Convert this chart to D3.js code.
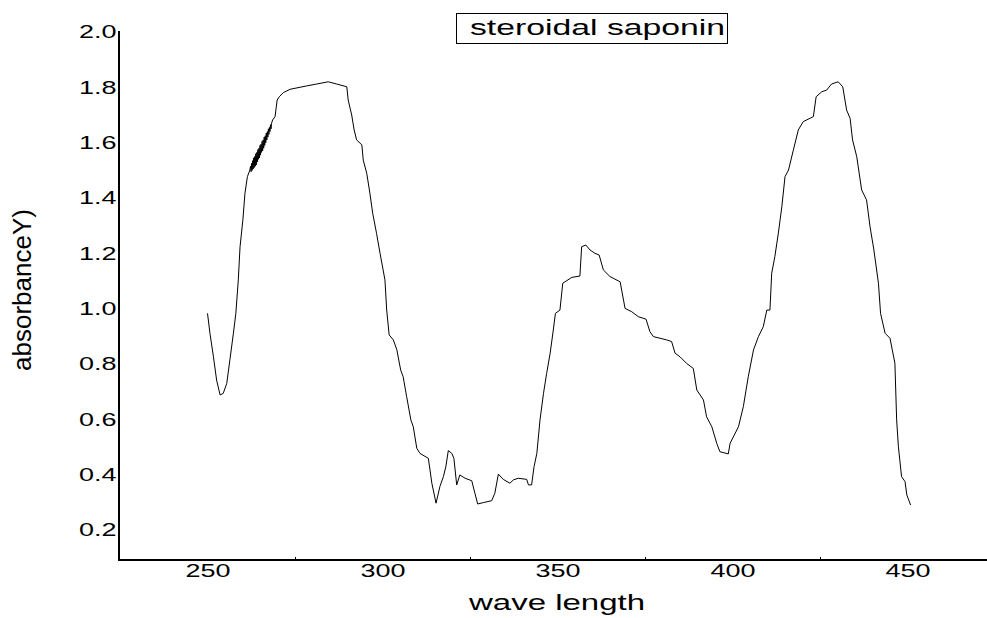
<!DOCTYPE html>
<html>
<head>
<meta charset="utf-8">
<style>
  body { margin: 0; background: #fff; }
  svg { display: block; font-family: "Liberation Sans", Arial, sans-serif; }
</style>
</head>
<body>
<div id="container"></div>
<script src="https://cdn.jsdelivr.net/npm/d3@7"></script>
<script>

// spectrum (nm, absorbance)
const waveLength = [
  250.0, 250.7, 251.7, 252.6, 253.6, 254.5, 255.5, 256.4, 257.4, 258.1,
  258.8, 259.3, 260.1, 260.7, 261.4, 262.1,
  // noisy stretch on the left shoulder
  262.30, 262.45, 262.60, 262.75, 262.90, 263.05, 263.20, 263.35, 263.50, 263.65,
  263.80, 263.95, 264.10, 264.25, 264.40, 264.55, 264.70, 264.85, 265.00, 265.15,
  265.30, 265.45, 265.60, 265.75, 265.90, 266.05, 266.20, 266.35, 266.50, 266.65,
  266.80, 266.95, 267.10, 267.25, 267.40, 267.55, 267.70, 267.85, 268.00, 268.15,
  268.30,
  268.6, 269.3, 269.9, 270.5, 271.7, 273.6, 278.3, 281.2, 284.5, 286.9,
  289.8, 290.2, 291.2, 291.9, 292.6, 294.1, 294.5, 295.5, 296.4, 297.2,
  298.3, 299.3, 300.7, 301.2, 301.9, 303.1, 304.1, 305.2, 305.9, 306.9,
  308.1, 308.8, 309.8, 310.7, 313.1, 314.1, 315.3, 316.4, 317.4, 318.1,
  318.8, 319.8, 320.4, 321.2, 322.1, 323.6, 325.5, 326.4, 327.2, 328.8,
  331.2, 332.1, 333.1, 334.5, 336.4, 337.4, 338.8, 341.2, 341.7, 342.6,
  343.3, 344.1, 345.0, 346.0, 346.9, 347.9, 348.8, 349.4, 350.7, 351.5,
  354.1, 356.4, 356.9, 358.1, 359.3, 360.7, 361.9, 363.1, 365.0, 367.9,
  369.3, 371.2, 373.1, 375.3, 376.4, 377.4, 381.2, 382.6, 383.6, 385.0,
  386.9, 388.8, 389.8, 391.7, 392.6, 394.1, 395.5, 396.4, 398.8, 399.3,
  401.7, 403.1, 404.5, 406.0, 407.4, 408.8, 409.8, 410.7, 411.2, 412.1,
  413.1, 414.1, 415.0, 416.0, 417.4, 418.8, 420.2, 423.1, 423.9, 425.5,
  426.9, 428.3, 430.2, 431.5, 432.6, 433.6, 434.3, 435.5, 436.9, 438.3,
  439.3, 440.4, 441.7, 442.3, 443.6, 445.0, 446.4, 446.9, 447.4, 448.3,
  449.3, 449.8, 450.9
];
const absorbance = [
  0.983, 0.911, 0.826, 0.742, 0.688, 0.694, 0.730, 0.815, 0.911, 0.983,
  1.104, 1.224, 1.320, 1.417, 1.477, 1.501,
  1.515, 1.495, 1.525, 1.500, 1.535, 1.505, 1.545, 1.510, 1.550, 1.515,
  1.560, 1.520, 1.565, 1.530, 1.575, 1.540, 1.580, 1.545, 1.590, 1.555,
  1.595, 1.565, 1.605, 1.570, 1.610, 1.580, 1.620, 1.590, 1.625, 1.600,
  1.635, 1.610, 1.640, 1.620, 1.650, 1.630, 1.655, 1.640, 1.665, 1.650,
  1.670,
  1.682, 1.694, 1.754, 1.766, 1.781, 1.793, 1.805, 1.812, 1.820, 1.812,
  1.802, 1.754, 1.700, 1.646, 1.610, 1.592, 1.537, 1.489, 1.417, 1.345,
  1.272, 1.200, 1.104, 0.995, 0.905, 0.887, 0.851, 0.778, 0.754, 0.682,
  0.598, 0.573, 0.495, 0.477, 0.459, 0.369, 0.297, 0.357, 0.393, 0.429,
  0.487, 0.477, 0.459, 0.363, 0.399, 0.387, 0.378, 0.333, 0.294, 0.299,
  0.306, 0.333, 0.402, 0.383, 0.369, 0.381, 0.387, 0.383, 0.363, 0.363,
  0.429, 0.477, 0.598, 0.694, 0.766, 0.839, 0.923, 0.983, 0.995, 1.092,
  1.113, 1.118, 1.224, 1.230, 1.212, 1.200, 1.194, 1.140, 1.116, 1.097,
  1.001, 0.989, 0.971, 0.962, 0.917, 0.899, 0.887, 0.881, 0.839, 0.826,
  0.802, 0.784, 0.706, 0.670, 0.609, 0.573, 0.513, 0.483, 0.475, 0.513,
  0.573, 0.646, 0.754, 0.851, 0.899, 0.935, 0.995, 0.995, 1.128, 1.188,
  1.273, 1.369, 1.477, 1.501, 1.574, 1.646, 1.676, 1.694, 1.766, 1.784,
  1.790, 1.812, 1.820, 1.802, 1.718, 1.688, 1.610, 1.549, 1.429, 1.393,
  1.296, 1.212, 1.092, 0.983, 0.911, 0.893, 0.803, 0.598, 0.501, 0.393,
  0.375, 0.327, 0.290
];
const xTickValues = [250, 300, 350, 400, 450];
const xMinorTicks = [275, 325, 375, 425, 475];
const yTickValues = [0.2, 0.4, 0.6, 0.8, 1.0, 1.2, 1.4, 1.6, 1.8, 2.0];
const legendLabel = "steroidal saponin";

const width = 987, height = 618;
const stretch = 1.5; // text in the picture is drawn wide

const svg = d3.select("#container").append("svg")
  .attr("width", width)
  .attr("height", height);

const x = d3.scaleLinear().domain([225, 475]).range([120, 995]);
const y = d3.scaleLinear().domain([0.2, 2.0]).range([530, 32]);

const axisY = 560, axisX = 119;

// axis lines
svg.append("line")
  .attr("x1", axisX).attr("x2", width)
  .attr("y1", axisY).attr("y2", axisY)
  .attr("stroke", "#000").attr("stroke-width", 2);
svg.append("line")
  .attr("x1", axisX).attr("x2", axisX)
  .attr("y1", 31).attr("y2", axisY + 1)
  .attr("stroke", "#000").attr("stroke-width", 2);

// x tick labels
const gx = svg.append("g")
  .attr("transform", `translate(0,${axisY})`)
  .call(d3.axisBottom(x).tickValues(xTickValues).tickSize(0).tickPadding(4).tickFormat(d3.format("d")));
gx.select(".domain").remove();
gx.selectAll("text")
  .attr("font-size", 18)
  .attr("font-family", "Liberation Sans, Arial, sans-serif")
  .attr("fill", "#000")
  .attr("transform", `scale(${stretch},1)`);

// small marks between labels
const gm = svg.append("g")
  .attr("transform", `translate(0,${axisY})`)
  .call(d3.axisBottom(x).tickValues(xMinorTicks).tickSize(-3).tickFormat(""));
gm.select(".domain").remove();
gm.selectAll("line").attr("stroke", "#000");

// y tick labels
const gy = svg.append("g")
  .attr("transform", `translate(${axisX - 1},0)`)
  .call(d3.axisLeft(y).tickValues(yTickValues).tickSize(0).tickPadding(1).tickFormat(d3.format(".1f")));
gy.select(".domain").remove();
gy.selectAll("text")
  .attr("font-size", 18)
  .attr("font-family", "Liberation Sans, Arial, sans-serif")
  .attr("fill", "#000")
  .attr("transform", `scale(${stretch},1)`);

// axis titles
svg.append("text")
  .attr("transform", `translate(557,610) scale(${stretch},1)`)
  .attr("text-anchor", "middle")
  .attr("font-size", 22)
  .text("wave length");

svg.append("text")
  .attr("transform", "translate(31,290) rotate(-90)")
  .attr("text-anchor", "middle")
  .attr("font-size", 26)
  .text("absorbanceY)");

// legend box
svg.append("rect")
  .attr("x", 456.5).attr("y", 13.5)
  .attr("width", 271).attr("height", 30)
  .attr("fill", "#fff")
  .attr("stroke", "#000").attr("stroke-width", 1);
svg.append("text")
  .attr("transform", `translate(470,35) scale(${stretch},1)`)
  .attr("font-size", 22.5)
  .text(legendLabel);

// spectrum
const pts = waveLength.map((w, i) => [w, absorbance[i]]);
svg.append("path")
  .datum(pts)
  .attr("fill", "none")
  .attr("stroke", "#000")
  .attr("stroke-width", 1)
  .attr("d", d3.line().x(d => x(d[0])).y(d => y(d[1])));

</script>
</body>
</html>
